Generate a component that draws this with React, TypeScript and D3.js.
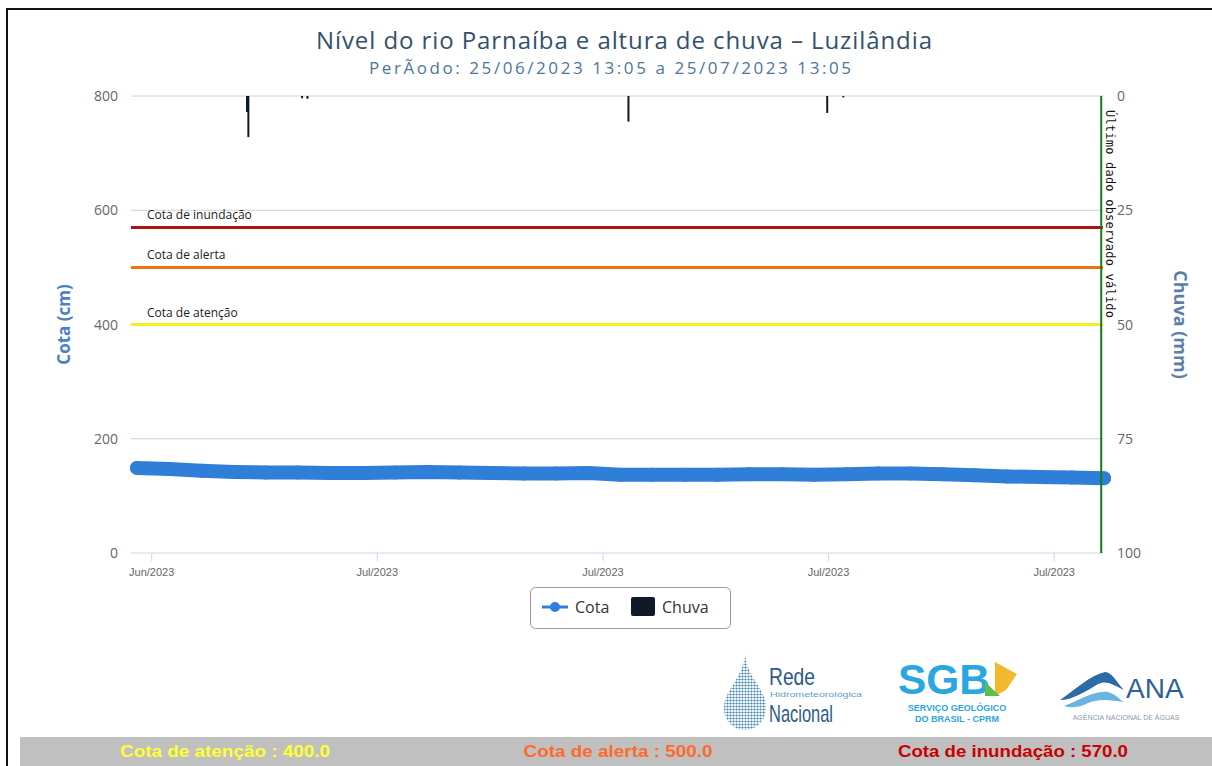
import React from 'react';
import * as d3 from 'd3';

// período exibido
const periodStart = new Date(2023, 5, 25, 13, 5);
const periodEnd = new Date(2023, 6, 25, 13, 5);
const lastValid = new Date(2023, 6, 25, 11, 0);

// cota (cm), uma leitura por dia a partir de 25/06 13:05
const cotaValues = [
  149, 147, 144, 142, 141, 141, 140, 140, 141, 142, 141,
  140, 139, 139, 140, 137, 137, 137, 137, 138, 138, 137,
  138, 139, 139, 138, 136, 134, 133, 132, 131,
];

// chuva (mm)
const chuvaTimes = [
  '2023-06-28T23:00', '2023-06-29T00:00', '2023-06-30T16:00', '2023-06-30T20:00',
  '2023-07-10T19:00', '2023-07-16T23:00', '2023-07-17T11:00',
];
const chuvaValues = [3.5, 9, 0.5, 0.6, 5.6, 3.7, 0.3];

const cotaTicks = [0, 200, 400, 600, 800];
const chuvaTicks = [0, 25, 50, 75, 100];

const thresholdNames = ['Cota de inundação', 'Cota de alerta', 'Cota de atenção'];
const thresholdValues = [570, 500, 400];
const thresholdColors = ['#b01010', '#f07010', '#f4f020'];

const footerLabels = ['Cota de atenção : 400.0', 'Cota de alerta : 500.0', 'Cota de inundação : 570.0'];
const footerColors = ['#ffff33', '#ff6a2a', '#c80000'];

const plot = { left: 131, right: 1103, top: 96, bottom: 553 };

export default function App() {
  const x = d3.scaleTime().domain([periodStart, periodEnd]).range([137, 1104]);
  const yL = d3.scaleLinear().domain([0, 800]).range([plot.bottom, plot.top]);
  const yR = d3.scaleLinear().domain([0, 100]).range([plot.top, plot.bottom]);

  const cota = cotaValues.map((v, i) => ({ t: d3.timeDay.offset(periodStart, i), v }));
  const chuva = chuvaTimes.map((t, i) => ({ t: new Date(t), v: chuvaValues[i] }));
  const line = d3.line<{ t: Date; v: number }>().x(d => x(d.t)).y(d => yL(d.v)).curve(d3.curveLinear);

  const xTicks = d3.timeMonday.range(d3.timeDay.ceil(periodStart), periodEnd);
  const fmt = d3.timeFormat('%b/%Y');

  const sans = '"Open Sans", "Noto Sans", sans-serif';
  const arial = '"Liberation Sans", Arial, sans-serif';
  const midY = (plot.top + plot.bottom) / 2;

  return (
    <svg width={1212} height={766} style={{ position: 'absolute', left: 0, top: 0, background: '#fff' }}>
      <defs>
        <pattern id="dots" width="3" height="3" patternUnits="userSpaceOnUse">
          <circle cx="1.5" cy="1.5" r="1.1" fill="#3b7fb0" />
        </pattern>
      </defs>
      <rect x={7} y={9} width={1220} height={770} fill="none" stroke="#111" strokeWidth={2} />

      <text x={624} y={49} textAnchor="middle" fontFamily={sans} fontSize={24} fill="#34506e"
        textLength={616} lengthAdjust="spacing">
        Nível do rio Parnaíba e altura de chuva – Luzilândia
      </text>
      <text x={610} y={74} textAnchor="middle" fontFamily={sans} fontSize={17} fill="#4d759e"
        textLength={482} lengthAdjust="spacing">
        PerÃodo: 25/06/2023 13:05 a 25/07/2023 13:05
      </text>

      {/* grid */}
      {cotaTicks.map(t => (
        <g key={t}>
          <line x1={plot.left} x2={plot.right} y1={yL(t)} y2={yL(t)} stroke={t === 0 ? '#ccd6eb' : '#d0d0d0'} />
          <text x={118} y={yL(t) + 5} textAnchor="end" fontFamily={sans} fontSize={14} fill="#666">{t}</text>
        </g>
      ))}
      {chuvaTicks.map(t => (
        <text key={t} x={1117} y={yR(t) + 5} fontFamily={sans} fontSize={14} fill="#666">{t}</text>
      ))}

      {/* x axis */}
      {xTicks.map(t => (
        <g key={+t}>
          <line x1={x(t)} x2={x(t)} y1={plot.bottom} y2={plot.bottom + 8} stroke="#ccd6eb" />
          <text x={x(t)} y={plot.bottom + 23} textAnchor="middle" fontFamily={arial} fontSize={11} fill="#666">{fmt(t)}</text>
        </g>
      ))}

      <text transform={`translate(70,${midY}) rotate(-90)`} textAnchor="middle"
        fontFamily={sans} fontSize={17} fontWeight="bold" fill="#4a82c4">Cota (cm)</text>
      <text transform={`translate(1174,${midY}) rotate(90)`} textAnchor="middle"
        fontFamily={sans} fontSize={18} fontWeight="bold" fill="#5a7ea8">Chuva (mm)</text>

      {/* thresholds */}
      {thresholdValues.map((v, i) => (
        <g key={v}>
          <line x1={plot.left} x2={plot.right} y1={yL(v)} y2={yL(v)} stroke={thresholdColors[i]} strokeWidth={3} />
          <text x={147} y={yL(v) - 8} fontFamily={sans} fontSize={12} fill="#222">{thresholdNames[i]}</text>
        </g>
      ))}

      {/* chuva */}
      {chuva.map((d, i) => (
        <rect key={i} x={x(d.t) - 1} y={plot.top} width={2} height={yR(d.v) - plot.top} fill="#0f1a26" />
      ))}

      {/* cota */}
      <path d={line(cota) || ''} fill="none" stroke="#2f7ed8" strokeWidth={14} strokeLinejoin="round" strokeLinecap="round" />
      {cota.map((d, i) => (
        <circle key={i} cx={x(d.t)} cy={yL(d.v)} r={7} fill="#2f7ed8" />
      ))}

      {/* último dado */}
      <line x1={x(lastValid)} x2={x(lastValid)} y1={plot.top} y2={plot.bottom} stroke="#1b7a1b" strokeWidth={2} />
      <text transform={`translate(${x(lastValid) + 5},${plot.top + 14}) rotate(90)`} fontFamily='"DejaVu Sans Mono", monospace'
        fontSize={12} fill="#111" textLength={208} lengthAdjust="spacing">Último dado observado válido</text>

      {/* legend */}
      <rect x={530.5} y={587.5} width={200} height={41} rx={5} fill="#fff" stroke="#999" />
      <line x1={542} x2={568} y1={607} y2={607} stroke="#2f7ed8" strokeWidth={3} />
      <circle cx={555} cy={607} r={5} fill="#2f7ed8" />
      <text x={575} y={613} fontFamily={sans} fontSize={16} fill="#333">Cota</text>
      <rect x={631} y={597} width={24} height={19} rx={2} fill="#0f1a26" />
      <text x={662} y={613} fontFamily={sans} fontSize={16} fill="#333">Chuva</text>

      {/* logos */}
      <path d="M745,655 C748,680 768,690 766,710 C764,725 752,730 745,730 C735,730 724,722 724,708 C724,690 742,680 745,655 Z" fill="url(#dots)" />
      <text x={769} y={685} fontFamily={arial} fontSize={24} fill="#2c5a8a" textLength={46} lengthAdjust="spacingAndGlyphs">Rede</text>
      <text x={770} y={697} fontFamily={arial} fontSize={8} fill="#5aa0d0" textLength={92} lengthAdjust="spacingAndGlyphs">Hidrometeorológica</text>
      <text x={769} y={722} fontFamily={arial} fontSize={24} fill="#2c5a8a" textLength={64} lengthAdjust="spacingAndGlyphs">Nacional</text>

      <text x={898} y={694} fontFamily={arial} fontSize={42} fontWeight="bold" fill="#2aa6e0" textLength={92} lengthAdjust="spacingAndGlyphs">SGB</text>
      <path d="M995,662 L1017,674 L1006,690 L995,696 Z" fill="#f2b830" />
      <path d="M985,682 L1000,696 L985,696 Z" fill="#5bbf4a" />
      <text x={957} y={711} textAnchor="middle" fontFamily={arial} fontSize={9} fontWeight="bold" fill="#2aa6e0">SERVIÇO GEOLÓGICO</text>
      <text x={957} y={722} textAnchor="middle" fontFamily={arial} fontSize={9} fontWeight="bold" fill="#2aa6e0">DO BRASIL - CPRM</text>

      <path d="M1060,700 C1075,690 1090,675 1105,672 C1112,672 1118,684 1124,690 C1112,684 1106,680 1098,684 C1085,692 1072,700 1060,700 Z" fill="#2d6aa8" />
      <path d="M1064,706 C1080,700 1095,690 1108,692 C1116,694 1120,700 1124,702 C1110,700 1098,698 1086,704 C1078,708 1070,708 1064,706 Z" fill="#6cb4e0" />
      <text x={1126} y={698} fontFamily={arial} fontSize={28} fill="#2d5fa0">ANA</text>
      <text x={1126} y={720} textAnchor="middle" fontFamily={arial} fontSize={7} fill="#8a9aaa">AGÊNCIA NACIONAL DE ÁGUAS</text>

      {/* footer */}
      <rect x={20} y={737} width={1192} height={29} fill="#c0c0c0" />
      {footerLabels.map((s, i) => (
        <text key={s} x={[225, 618, 1013][i]} y={757} textAnchor="middle" fontFamily={arial} fontSize={16}
          fontWeight="bold" fill={footerColors[i]} textLength={[210, 189, 230][i]} lengthAdjust="spacingAndGlyphs">{s}</text>
      ))}
    </svg>
  );
}
